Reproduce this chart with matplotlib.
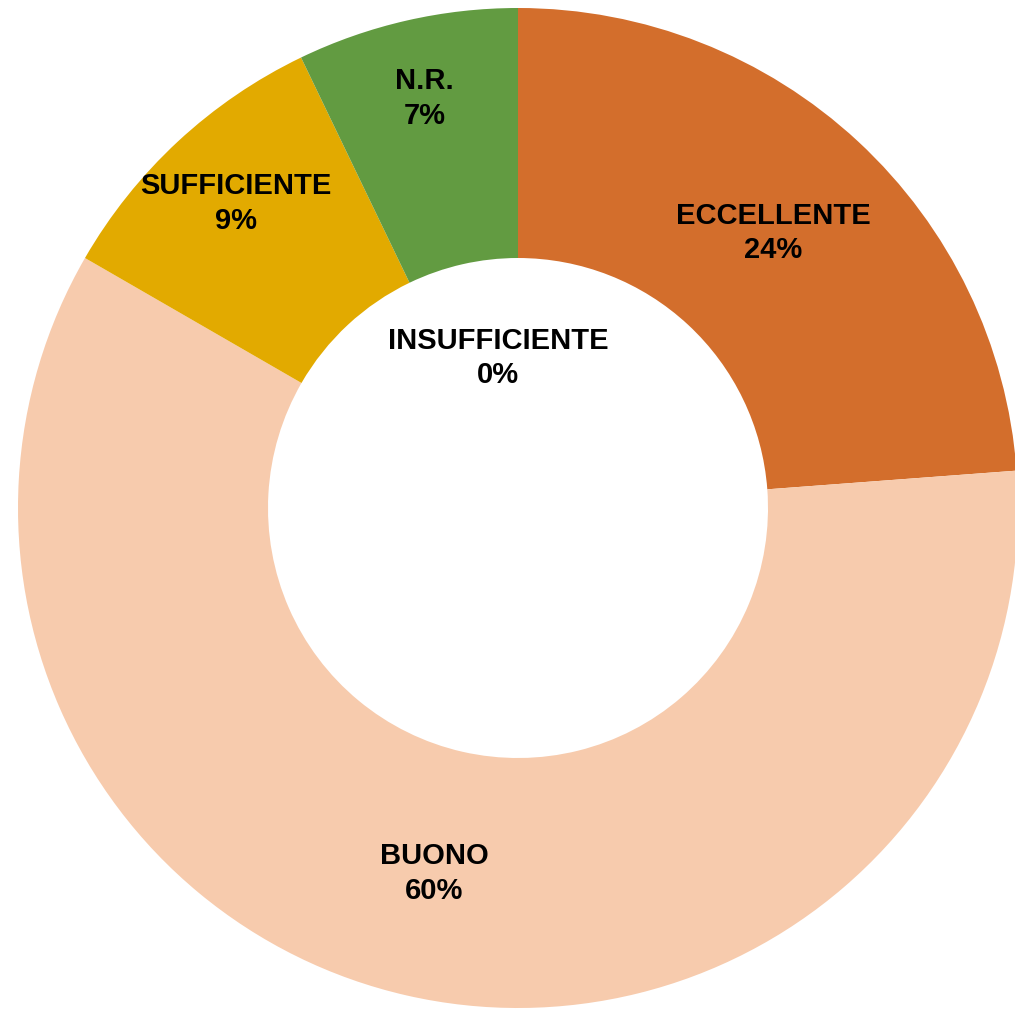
import numpy as np
import matplotlib.pyplot as plt

# dati del grafico
categorie = ['ECCELLENTE', 'BUONO', 'INSUFFICIENTE', 'SUFFICIENTE', 'N.R.']
conteggi = [10, 25, 0, 4, 3]
percentuali = ['24%', '60%', '0%', '9%', '7%']
colori = ['#D36E2C', '#F7CBAD', '#A5A5A5', '#E2AA00', '#629B41']

fig = plt.figure(figsize=(10.15, 10.10), dpi=100)
ax = fig.add_axes([0, 0, 1, 1])

wedges, _ = ax.pie(conteggi, colors=colori, startangle=90, counterclock=False,
                   radius=1.0, wedgeprops=dict(width=0.5, edgecolor='none'))

# posizione delle etichette (raggio per etichetta, Excel "best fit")
raggi = [0.75, 0.75, 0.30, 0.83, 0.84]
for w, nome, perc, r in zip(wedges, categorie, percentuali, raggi):
    ang = np.deg2rad((w.theta1 + w.theta2) / 2)
    if w.theta1 == w.theta2:
        x, y = -0.04, r
    else:
        x, y = r * np.cos(ang), r * np.sin(ang)
    ax.text(x, y, nome + '\n' + perc, ha='center', va='center',
            fontsize=21, fontweight='bold', family='Liberation Sans',
            linespacing=1.3, color='black')

ax.set_xlim(-1.036, 0.994)
ax.set_ylim(-1.004, 1.016)
ax.set_aspect('equal')
ax.axis('off')

plt.savefig('out.png', dpi=100)
